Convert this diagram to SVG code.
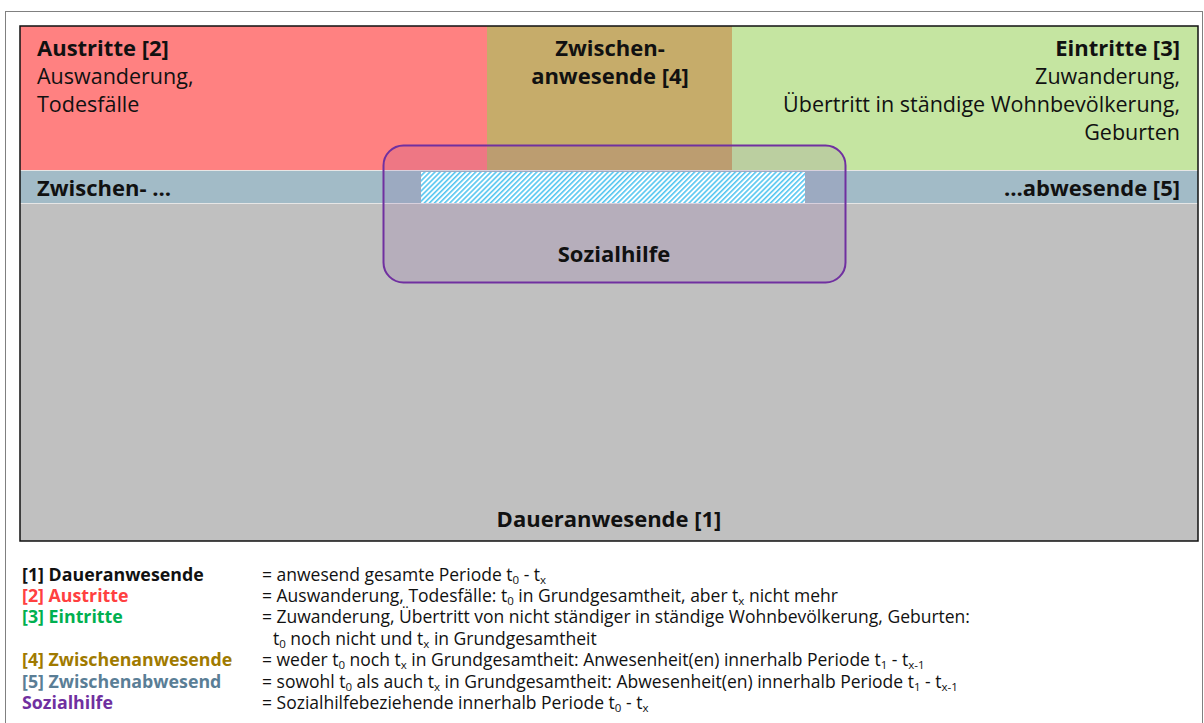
<svg xmlns="http://www.w3.org/2000/svg" width="1204" height="723" viewBox="0 0 1204 723">
<style>
.t{font-family:"Open Sans","Liberation Sans",sans-serif;fill:#111}
.h{font-size:21.5px}
.hb{font-size:22px;font-weight:bold}
.l{font-size:17.5px}
.lb{font-size:17.8px;font-weight:bold}
.s{font-size:11.5px}
</style>
<defs>
<pattern id="hatch" patternUnits="userSpaceOnUse" width="3.6" height="8" patternTransform="rotate(45)">
<rect width="3.6" height="8" fill="#fff"/>
<rect width="1.6" height="8" fill="#55C6F0"/>
</pattern>
</defs>
<rect width="1204" height="723" fill="#fff"/>
<rect x="5.5" y="11.5" width="1197" height="730" fill="none" stroke="#808080" stroke-width="1"/>
<g id="daueranwesende">
<rect x="20" y="26" width="1178" height="515" fill="#C0C0C0"/>
<text class="t hb" x="609" y="527" text-anchor="middle">Daueranwesende [1]</text>
</g>
<g id="austritte">
<rect x="20" y="26" width="467" height="144" fill="#FF8181"/>
<text class="t hb" x="37" y="56">Austritte [2]</text>
<text class="t h" x="37" y="84">Auswanderung,</text>
<text class="t h" x="37" y="112">Todesfälle</text>
</g>
<g id="zwischenanwesende">
<rect x="487" y="26" width="245" height="144" fill="#C6AC6A"/>
<text class="t hb" x="610" y="56" text-anchor="middle">Zwischen-</text>
<text class="t hb" x="610" y="84" text-anchor="middle">anwesende [4]</text>
</g>
<g id="eintritte">
<rect x="732" y="26" width="466" height="144" fill="#C5E5A1"/>
<text class="t hb" x="1180" y="56" text-anchor="end">Eintritte [3]</text>
<text class="t h" x="1180" y="84" text-anchor="end">Zuwanderung,</text>
<text class="t h" x="1180" y="112" text-anchor="end">Übertritt in ständige Wohnbevölkerung,</text>
<text class="t h" x="1180" y="140" text-anchor="end">Geburten</text>
</g>
<g id="zwischenabwesende">
<rect x="20" y="171" width="1178" height="32" fill="#A2BBC7"/>
<line x1="20" y1="170.5" x2="1198" y2="170.5" stroke="#E6E6E6" stroke-width="1"/>
<line x1="20" y1="203.5" x2="1198" y2="203.5" stroke="#E6E6E6" stroke-width="1"/>
<text class="t hb" x="37" y="196">Zwischen- …</text>
<text class="t hb" x="1180" y="196" text-anchor="end">…abwesende [5]</text>
</g>
<g id="sozialhilfe">
<rect x="383.5" y="145.5" width="462" height="137" rx="20" ry="20" fill="#7030A0" fill-opacity="0.12" stroke="#7030A0" stroke-width="2"/>
<rect x="421" y="172" width="384" height="31" fill="url(#hatch)"/>
<text class="t hb" x="614" y="262" text-anchor="middle">Sozialhilfe</text>
</g>
<rect x="20" y="26" width="1178" height="515" fill="none" stroke="#111" stroke-width="1.5"/>
<g id="legend">
<text class="t lb" x="22" y="581">[1] Daueranwesende</text>
<text class="t lb" x="22" y="602" style="fill:#FF4040">[2] Austritte</text>
<text class="t lb" x="22" y="623" style="fill:#00B050">[3] Eintritte</text>
<text class="t lb" x="22" y="666" style="fill:#A07A00">[4] Zwischenanwesende</text>
<text class="t lb" x="22" y="688" style="fill:#5A7E96">[5] Zwischenabwesend</text>
<text class="t lb" x="22" y="709" style="fill:#7030A0">Sozialhilfe</text>
<text class="t l" x="262" y="581">= anwesend gesamte Periode t<tspan class="s" dy="3">0</tspan><tspan dy="-3"> - t</tspan><tspan class="s" dy="3">x</tspan></text>
<text class="t l" x="262" y="602">= Auswanderung, Todesfälle: t<tspan class="s" dy="3">0</tspan><tspan dy="-3"> in Grundgesamtheit, aber t</tspan><tspan class="s" dy="3">x</tspan><tspan dy="-3"> nicht mehr</tspan></text>
<text class="t l" x="262" y="623">= Zuwanderung, Übertritt von nicht ständiger in ständige Wohnbevölkerung, Geburten:</text>
<text class="t l" x="273" y="645">t<tspan class="s" dy="3">0</tspan><tspan dy="-3"> noch nicht und t</tspan><tspan class="s" dy="3">x</tspan><tspan dy="-3"> in Grundgesamtheit</tspan></text>
<text class="t l" x="262" y="666">= weder t<tspan class="s" dy="3">0</tspan><tspan dy="-3"> noch t</tspan><tspan class="s" dy="3">x</tspan><tspan dy="-3"> in Grundgesamtheit: Anwesenheit(en) innerhalb Periode t</tspan><tspan class="s" dy="3">1</tspan><tspan dy="-3"> - t</tspan><tspan class="s" dy="3">x-1</tspan></text>
<text class="t l" x="262" y="688">= sowohl t<tspan class="s" dy="3">0</tspan><tspan dy="-3"> als auch t</tspan><tspan class="s" dy="3">x</tspan><tspan dy="-3"> in Grundgesamtheit: Abwesenheit(en) innerhalb Periode t</tspan><tspan class="s" dy="3">1</tspan><tspan dy="-3"> - t</tspan><tspan class="s" dy="3">x-1</tspan></text>
<text class="t l" x="262" y="709">= Sozialhilfebeziehende innerhalb Periode t<tspan class="s" dy="3">0</tspan><tspan dy="-3"> - t</tspan><tspan class="s" dy="3">x</tspan></text>
</g>
</svg>
